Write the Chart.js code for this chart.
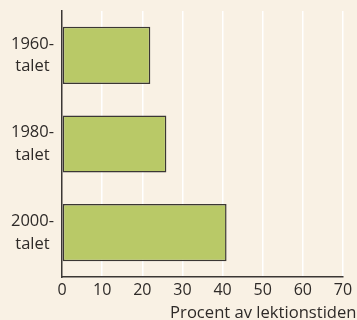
<!DOCTYPE html>
<html>
<head>
<meta charset="utf-8">
<script src="https://cdn.jsdelivr.net/npm/chart.js@4"></script>
<style>
  html, body { margin: 0; padding: 0; background: #f9f1e4; }
  #wrap { width: 357px; height: 320px; position: relative; }
</style>
</head>
<body>
<div id="wrap"><canvas id="bar-chart"></canvas></div>
<script>
const decades = [['1960-', 'talet'], ['1980-', 'talet'], ['2000-', 'talet']];
const andel = [22, 26, 41];
const xTicks = [0, 10, 20, 30, 40, 50, 60, 70];
const xTitle = 'Procent av lektionstiden';

const textColor = '#2e2a28';
const fontFamily = '"Open Sans", sans-serif';

// axis title sits flush with the right edge of the canvas, past the last tick
const axisTitle = {
    id: 'axisTitle',
    afterDraw(chart) {
        const c = chart.ctx;
        c.save();
        c.font = '16.6px ' + fontFamily;
        c.fillStyle = textColor;
        c.textAlign = 'right';
        c.textBaseline = 'alphabetic';
        c.fillText(xTitle, chart.width - 0.5, chart.height - 2.5);
        c.restore();
    }
};

var ctx = document.getElementById('bar-chart').getContext('2d');

var myChart = new Chart(ctx, {
    type: 'bar',
    data: {
        labels: decades,
        datasets: [{
            data: andel,
            backgroundColor: '#b9c967',
            borderColor: '#3b3734',
            borderWidth: 1.5,
            borderSkipped: false,
            barPercentage: 0.645,
            categoryPercentage: 1
        }]
    },
    options: {
        indexAxis: 'y',
        responsive: true,
        maintainAspectRatio: false,
        animation: false,
        layout: { padding: { top: 11, right: 14, left: 0, bottom: 0 } },
        plugins: {
            legend: { display: false },
            tooltip: { enabled: false }
        },
        scales: {
            x: {
                min: xTicks[0],
                max: xTicks[xTicks.length - 1],
                afterBuildTicks: axis => {
                    axis.ticks = xTicks.map(v => ({ value: v }));
                },
                afterFit: axis => {
                    axis.height = 43;
                },
                grid: {
                    color: c => c.tick && c.tick.value === 0 ? 'rgba(0,0,0,0)' : '#ffffff',
                    lineWidth: 1.5,
                    drawTicks: false
                },
                border: { display: true, color: '#3b3734', width: 1.5 },
                ticks: {
                    color: textColor,
                    padding: 4,
                    font: { family: fontFamily, size: 16 }
                }
            },
            y: {
                afterFit: axis => {
                    axis.width = 62;
                    axis.paddingTop = 0;
                    axis.paddingBottom = 0;
                },
                grid: { display: false },
                border: { display: true, color: '#3b3734', width: 1.5 },
                ticks: {
                    color: textColor,
                    padding: 0,
                    crossAlign: 'center',
                    font: { family: fontFamily, size: 16.5, lineHeight: 1.36 }
                }
            }
        }
    },
    plugins: [axisTitle]
});
</script>
</body>
</html>
